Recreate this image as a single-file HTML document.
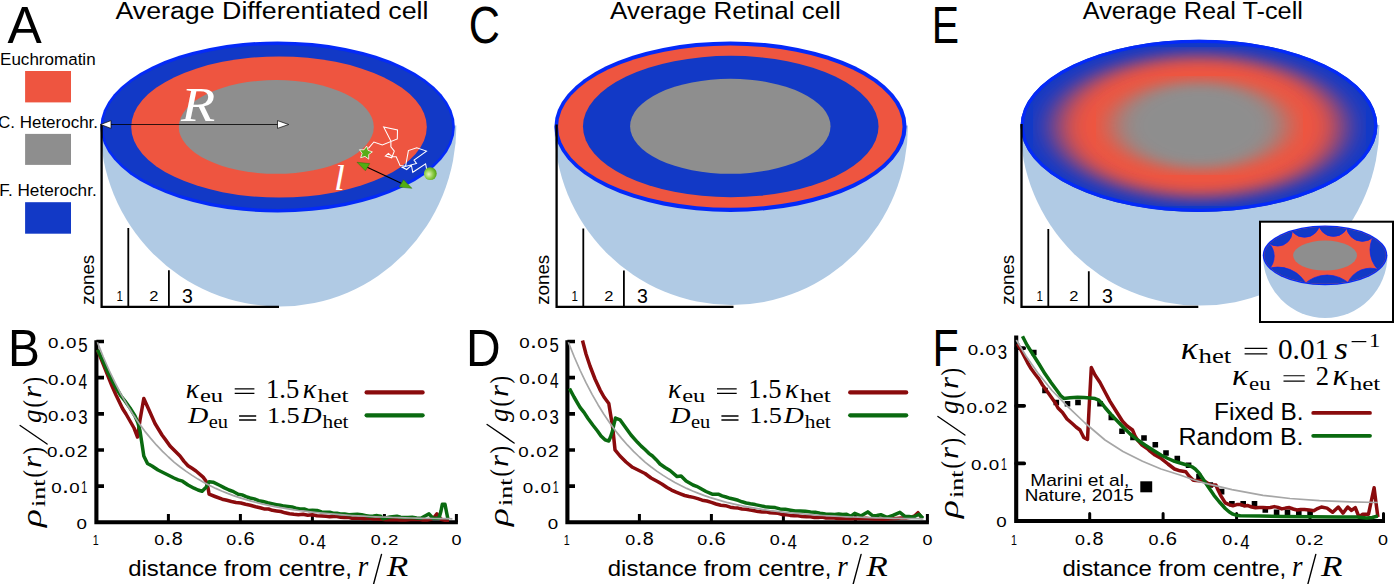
<!DOCTYPE html>
<html><head><meta charset="utf-8"><title>Figure</title>
<style>
html,body{margin:0;padding:0;background:#fff;}
body{width:1395px;height:584px;overflow:hidden;font-family:"Liberation Sans",sans-serif;}
svg{display:block;}
</style></head><body>
<svg width="1395" height="584" viewBox="0 0 1395 584">
<rect width="1395" height="584" fill="#fff"/>
<defs>
<radialGradient id="gBall" cx="0.38" cy="0.55" r="0.62">
<stop offset="0" stop-color="#e4f5c4"/>
<stop offset="0.5" stop-color="#96d050"/>
<stop offset="0.85" stop-color="#64b022"/>
<stop offset="1" stop-color="#55a018"/>
</radialGradient>
<filter id="blurG" filterUnits="userSpaceOnUse" x="1096.9" y="76.7" width="205.8" height="98"><feGaussianBlur stdDeviation="14 6.3"/></filter>
<filter id="blurR" filterUnits="userSpaceOnUse" x="1033.1" y="47" width="332.1" height="159"><feGaussianBlur stdDeviation="16 8"/></filter>
<clipPath id="clipE"><ellipse cx="1199.0" cy="125.8" rx="178.4" ry="86.1"/></clipPath>
<clipPath id="clipInset"><ellipse cx="1325.05" cy="255.3" rx="60.8" ry="28.5"/></clipPath>
</defs>
<path d="M100.2,125.5 A179.8,180.9 0 0 0 280.0,306.4 A176.4,180.9 0 0 0 456.4,125.5 Z" fill="#b0cae4"/>
<ellipse cx="277.65" cy="126.9" rx="177.2" ry="85.5" fill="#042af8"/>
<ellipse cx="277.65" cy="126.9" rx="174.7" ry="82" fill="#1239c6"/>
<ellipse cx="279" cy="127" rx="147.8" ry="70.5" fill="#ee5540"/>
<ellipse cx="276.3" cy="126.9" rx="97.5" ry="46.9" fill="#8e8e8e"/>
<path d="M101.6,124.0 V306.8 H279.0" fill="none" stroke="#000" stroke-width="2.3"/>
<path d="M128.3,228.0 V306.8 M168.9,270.2 V306.8" fill="none" stroke="#000" stroke-width="1.8"/>
<text transform="translate(116.57,301.40) scale(0.1163,0.1449)" font-size="100" fill="#000" font-family='"Liberation Sans", sans-serif'>1</text>
<text transform="translate(149.17,301.40) scale(0.1652,0.1429)" font-size="100" fill="#000" font-family='"Liberation Sans", sans-serif'>2</text>
<text transform="translate(181.92,303.19) scale(0.1957,0.2085)" font-size="100" fill="#000" font-family='"Liberation Sans", sans-serif'>3</text>
<text transform="translate(94.0,304.8) rotate(-90)" font-size="19" font-family='"Liberation Sans", sans-serif' textLength="50" lengthAdjust="spacingAndGlyphs">zones</text>
<path d="M106,124.5 H282" stroke="#000" stroke-width="1.1" stroke-opacity="0.8" fill="none"/>
<path d="M100.7,124.5 L111,120.6 L111,128.4 Z" fill="#fff" stroke="#000" stroke-width="0.7"/>
<path d="M288.7,124.5 L277.5,120.6 L277.5,128.4 Z" fill="#fff" stroke="#000" stroke-width="0.7"/>
<text transform="translate(180.90,120.80) scale(0.5610,0.4923)" font-size="100" fill="#fff" font-family='"Liberation Serif", serif' font-style="italic">R</text>
<text transform="translate(333.95,189.60) scale(0.3900,0.3565)" font-size="100" fill="#fff" font-family='"Liberation Serif", serif' font-style="italic">l</text>
<polyline points="368.4,148.4 373.9,142.0 382.3,145.0 397.3,138.9 397.5,129.9 383.7,126.9 390.9,141.1 390.9,146.7 394.3,151.1 391.7,157.8 385.4,156.1 388.4,153.4 392.3,156.7 396.2,156.7 400.1,165.6 405.6,166.2 408.4,150.6 416.7,147.8 426.5,151.1 414.0,160.0 416.5,163.4 402.3,167.3 406.7,169.5 411.4,165.4 412.8,172.3 425.6,163.9 426.8,170.0" fill="none" stroke="#fff" stroke-width="1.05" stroke-linejoin="miter"/>
<polygon points="366.7,146.1 368.1,150.4 372.4,151.9 368.7,154.5 368.7,159.1 365.0,156.4 360.7,157.7 362.1,153.4 359.5,149.7 364.0,149.8" fill="#5aad18" stroke="#fff" stroke-width="0.8"/>
<circle cx="430.3" cy="173.6" r="6.4" fill="url(#gBall)"/>
<path d="M364,165.7 L405,185.0" stroke="#000" stroke-width="1.1" fill="none"/>
<path d="M357,162.3 L369.7,163.6 L365.4,170.8 Z" fill="#52ad12" stroke="#2f6d0c" stroke-width="0.5"/>
<path d="M411.9,188.3 L399.2,187.0 L403.5,179.8 Z" fill="#52ad12" stroke="#2f6d0c" stroke-width="0.5"/>
<path d="M554.2,125.5 A177.3,179.5 0 0 0 731.5,305.0 A176.5,179.5 0 0 0 908.0,125.5 Z" fill="#b0cae4"/>
<ellipse cx="730.5" cy="126.65" rx="176.1" ry="85.25" fill="#042af8"/>
<ellipse cx="730.3" cy="126.65" rx="172.2" ry="81.15" fill="#ee5540"/>
<ellipse cx="730.75" cy="126.5" rx="147.8" ry="70.7" fill="#1239c6"/>
<ellipse cx="730.3" cy="126.3" rx="100.2" ry="47.5" fill="#8e8e8e"/>
<path d="M556.6,124.5 V306.8 H733.5" fill="none" stroke="#000" stroke-width="2.3"/>
<path d="M583.3,228.6 V306.8 M623.9,270.4 V306.8" fill="none" stroke="#000" stroke-width="1.8"/>
<text transform="translate(571.57,301.40) scale(0.1163,0.1449)" font-size="100" fill="#000" font-family='"Liberation Sans", sans-serif'>1</text>
<text transform="translate(604.17,301.40) scale(0.1652,0.1429)" font-size="100" fill="#000" font-family='"Liberation Sans", sans-serif'>2</text>
<text transform="translate(636.92,303.19) scale(0.1957,0.2085)" font-size="100" fill="#000" font-family='"Liberation Sans", sans-serif'>3</text>
<text transform="translate(549.0,304.8) rotate(-90)" font-size="19" font-family='"Liberation Sans", sans-serif' textLength="50" lengthAdjust="spacingAndGlyphs">zones</text>
<path d="M1020.2,125.0 A179.8,180.6 0 0 0 1200.0,305.6 A179.4,180.6 0 0 0 1379.4,125.0 Z" fill="#b0cae4"/>
<ellipse cx="1199.0" cy="125.8" rx="178.4" ry="86.1" fill="#1239c6"/>
<g clip-path="url(#clipE)">
<ellipse cx="1199.15" cy="126.5" rx="143.5" ry="71" fill="#ee5540" filter="url(#blurR)"/>
<ellipse cx="1199.6" cy="125.4" rx="86" ry="44" fill="#8e8e8e" filter="url(#blurG)"/>
</g>
<ellipse cx="1199.0" cy="125.8" rx="176.8" ry="84.5" fill="none" stroke="#042af8" stroke-width="3.2"/>
<path d="M1021.5,124.0 V306.8 H1198.3" fill="none" stroke="#000" stroke-width="2.3"/>
<path d="M1048.3,228.9 V306.8 M1088.8,271.3 V306.8" fill="none" stroke="#000" stroke-width="1.8"/>
<text transform="translate(1036.57,301.40) scale(0.1163,0.1449)" font-size="100" fill="#000" font-family='"Liberation Sans", sans-serif'>1</text>
<text transform="translate(1069.17,301.40) scale(0.1652,0.1429)" font-size="100" fill="#000" font-family='"Liberation Sans", sans-serif'>2</text>
<text transform="translate(1101.92,303.19) scale(0.1957,0.2085)" font-size="100" fill="#000" font-family='"Liberation Sans", sans-serif'>3</text>
<text transform="translate(1014.0,304.8) rotate(-90)" font-size="19" font-family='"Liberation Sans", sans-serif' textLength="50" lengthAdjust="spacingAndGlyphs">zones</text>
<rect x="1260" y="221.7" width="133" height="100.3" fill="#fff" stroke="#000" stroke-width="2"/>
<path d="M1262.9,255 A62.3,63 0 0 0 1387.5,255 Z" fill="#b0cae4"/>
<ellipse cx="1325.05" cy="255.3" rx="62.3" ry="29.9" fill="#042af8"/>
<ellipse cx="1325.05" cy="255.3" rx="60.8" ry="28.5" fill="#ee5540"/>
<g clip-path="url(#clipInset)">
<circle cx="1255.4" cy="256.2" r="18.8" fill="#1239c6" stroke="#042af8" stroke-width="0.7"/>
<circle cx="1277.7" cy="231.6" r="14.5" fill="#1239c6" stroke="#042af8" stroke-width="0.7"/>
<circle cx="1304.5" cy="221.7" r="15.6" fill="#1239c6" stroke="#042af8" stroke-width="0.7"/>
<circle cx="1333.4" cy="221.0" r="15.4" fill="#1239c6" stroke="#042af8" stroke-width="0.7"/>
<circle cx="1362.3" cy="225.5" r="15.9" fill="#1239c6" stroke="#042af8" stroke-width="0.7"/>
<circle cx="1398.5" cy="249.8" r="28.5" fill="#1239c6" stroke="#042af8" stroke-width="0.7"/>
<circle cx="1370.4" cy="293.1" r="24.9" fill="#1239c6" stroke="#042af8" stroke-width="0.7"/>
<circle cx="1327.1" cy="308.5" r="33.4" fill="#1239c6" stroke="#042af8" stroke-width="0.7"/>
<circle cx="1277.7" cy="299.7" r="32.6" fill="#1239c6" stroke="#042af8" stroke-width="0.7"/>
</g>
<ellipse cx="1325.05" cy="255.6" rx="31.9" ry="15.0" fill="#8e8e8e"/>
<text transform="translate(7.50,43.00) scale(0.5136,0.5174)" font-size="100" fill="#000" font-family='"Liberation Sans", sans-serif'>A</text>
<text transform="translate(468.84,42.79) scale(0.4317,0.5127)" font-size="100" fill="#000" font-family='"Liberation Sans", sans-serif'>C</text>
<text transform="translate(931.83,43.00) scale(0.4093,0.5174)" font-size="100" fill="#000" font-family='"Liberation Sans", sans-serif'>E</text>
<text transform="translate(7.98,365.70) scale(0.4774,0.5130)" font-size="100" fill="#000" font-family='"Liberation Sans", sans-serif'>B</text>
<text transform="translate(466.06,365.70) scale(0.4797,0.5130)" font-size="100" fill="#000" font-family='"Liberation Sans", sans-serif'>D</text>
<text transform="translate(932.47,365.70) scale(0.4286,0.5116)" font-size="100" fill="#000" font-family='"Liberation Sans", sans-serif'>F</text>
<text transform="translate(115.40,18.80) scale(1.0891,1.0000)" font-size="24.6" fill="#000" font-family='"Liberation Sans", sans-serif'>Average Differentiated cell</text>
<text transform="translate(610.10,18.60) scale(1.0562,1.0000)" font-size="24.6" fill="#000" font-family='"Liberation Sans", sans-serif'>Average Retinal cell</text>
<text transform="translate(1082.70,18.70) scale(1.0309,1.0000)" font-size="24.6" fill="#000" font-family='"Liberation Sans", sans-serif'>Average Real T-cell</text>
<text transform="translate(0.04,64.70) scale(1.0142,1.0000)" font-size="16.8" fill="#000" font-family='"Liberation Sans", sans-serif'>Euchromatin</text>
<rect x="25.1" y="71" width="45.9" height="31.4" fill="#ee5540"/>
<text transform="translate(-2.05,127.50) scale(1.0124,1.0000)" font-size="16.8" fill="#000" font-family='"Liberation Sans", sans-serif'>C. Heterochr.</text>
<rect x="25.1" y="133.9" width="45.9" height="31" fill="#8e8e8e"/>
<text transform="translate(-0.67,195.80) scale(1.0227,1.0000)" font-size="16.8" fill="#000" font-family='"Liberation Sans", sans-serif'>F. Heterochr.</text>
<rect x="25.1" y="202.2" width="45.9" height="31.5" fill="#1239c6"/>
<path d="M96.4,340.2 V522.3 H457.9" fill="none" stroke="#000" stroke-width="4.1" stroke-linejoin="miter"/>
<path d="M168.4,522.3 v-8.2 M240.4,522.3 v-8.2 M312.4,522.3 v-8.2 M384.4,522.3 v-8.2 M456.4,522.3 v-8.2 " fill="none" stroke="#000" stroke-width="3" stroke-linecap="butt"/>
<path d="M96.4,486.1 h7.6 M96.4,450.0 h7.6 M96.4,413.8 h7.6 M96.4,377.7 h7.6 M96.4,341.5 h7.6 " fill="none" stroke="#000" stroke-width="3.7" stroke-linecap="butt"/>
<polyline points="97.5,349.8 102.0,361.0 106.0,371.0 110.0,381.0 112.0,386.0 116.0,395.0 122.5,408.5 126.0,414.0 130.0,421.0 134.0,428.0 137.5,437.0 140.0,420.0 143.8,398.5 149.0,410.0 155.0,423.5 162.0,435.0 166.0,440.4 170.0,446.0 175.0,451.1 180.0,456.0 184.0,461.4 188.0,465.7 192.0,468.3 196.0,471.0 203.1,477.1 206.0,481.0 208.1,488.2 209.1,494.2 215.0,496.5 222.2,499.2 226.8,500.3 231.4,501.5 236.0,502.5 240.8,503.0 245.5,504.3 250.3,505.2 255.7,506.8 261.0,508.0 264.8,509.1 268.5,509.0 272.3,510.3 276.5,510.9 280.8,511.5 285.0,512.8 289.5,513.8 293.9,514.3 298.4,514.7 303.1,514.2 307.8,515.3 312.5,514.7 317.0,515.8 321.5,516.0 326.0,516.3 329.6,516.7 333.3,516.4 337.0,516.5 340.6,517.3 344.4,517.6 348.2,517.4 352.0,518.2 356.2,518.0 360.5,518.2 364.7,518.7 369.0,518.3 373.4,519.0 377.7,519.1 382.0,519.3 385.8,519.8 389.5,519.6 393.3,519.8 397.0,519.8 400.8,519.9 405.5,520.0 410.3,519.6 415.0,519.5 419.0,519.2 422.9,520.0 426.9,519.9 430.9,519.3 433.5,518.0 436.9,513.9 441.0,519.3 445.0,520.2 449.0,520.3" fill="none" stroke="#8a0b0d" stroke-width="3.5" stroke-linejoin="round" stroke-linecap="butt"/>
<polyline points="97.5,349.8 103.0,361.0 108.5,373.5 115.0,386.0 121.0,396.0 125.0,401.0 130.0,408.0 135.0,416.0 138.0,423.0 140.0,431.0 142.0,444.0 143.8,456.0 147.5,463.5 152.0,466.0 158.0,470.0 165.0,473.5 169.5,475.7 174.0,478.0 178.2,479.8 182.5,481.2 188.0,485.0 194.0,488.2 198.0,490.0 202.1,491.2 206.1,487.2 209.1,481.8 213.1,482.2 220.0,485.5 224.5,487.9 229.0,490.0 233.6,491.7 238.2,494.2 242.1,494.9 246.1,496.6 250.0,498.0 254.3,498.9 258.7,500.7 263.0,501.5 267.5,502.8 271.9,503.7 276.4,504.6 280.3,505.3 284.1,506.1 288.0,506.5 292.0,506.9 296.0,508.1 300.0,509.0 304.2,509.0 308.3,510.4 312.5,510.3 317.0,510.4 321.5,512.0 326.0,512.3 329.6,512.2 333.3,513.3 337.0,513.3 340.6,513.9 344.7,514.0 348.9,514.7 353.0,514.5 357.3,514.3 361.7,514.7 366.0,515.6 369.7,516.3 373.4,516.0 377.1,515.6 380.8,516.3 382.8,518.7 390.0,517.0 396.9,516.3 400.6,517.3 404.3,517.6 408.0,517.5 412.3,517.3 416.7,517.9 421.0,518.3 425.0,516.0 429.0,513.9 433.0,518.3 439.0,518.3 441.0,511.0 442.3,504.3 445.0,504.3 446.5,512.0 448.0,519.3" fill="none" stroke="#0a6a10" stroke-width="3.5" stroke-linejoin="round" stroke-linecap="butt"/>
<polyline points="97.4,342.3 103.3,357.0 109.2,370.5 115.2,382.9 121.1,394.3 127.0,404.7 132.9,414.3 138.8,423.0 144.7,431.1 150.7,438.4 156.6,445.2 162.5,451.4 168.4,457.0 174.3,462.3 180.2,467.0 186.2,471.4 192.1,475.4 198.0,479.1 203.9,482.5 209.8,485.6 215.7,488.4 221.6,491.0 227.6,493.4 233.5,495.6 239.4,497.6 245.3,499.4 251.2,501.1 257.1,502.7 263.1,504.1 269.0,505.4 274.9,506.6 280.8,507.7 286.7,508.7 292.7,509.6 298.6,510.5 304.5,511.2 310.4,511.9 316.3,512.6 322.2,513.2 328.1,513.7 334.1,514.2 340.0,514.7 345.9,515.1 351.8,515.5 357.7,515.9 363.6,516.2 369.6,516.5 375.5,516.8 381.4,517.0 387.3,517.2 393.2,517.5 399.1,517.6 405.1,517.8 411.0,518.0 416.9,518.1 422.8,518.3 428.7,518.4 434.6,518.5 440.6,518.6 446.5,518.7 452.4,518.8" fill="none" stroke="#a6a6a6" stroke-width="1.7" stroke-linejoin="round" stroke-linecap="butt"/>
<text transform="translate(48.05,348.40) scale(0.1875,0.1549)" font-size="100" fill="#000" font-family='"Liberation Sans", sans-serif'>0</text>
<text transform="translate(58.75,348.55) scale(0.2500,0.2273)" font-size="100" fill="#000" font-family='"Liberation Sans", sans-serif'>.</text>
<text transform="translate(65.95,348.40) scale(0.1875,0.1549)" font-size="100" fill="#000" font-family='"Liberation Sans", sans-serif'>0</text>
<text transform="translate(78.23,351.94) scale(0.1681,0.2086)" font-size="100" fill="#000" font-family='"Liberation Sans", sans-serif'>5</text>
<text transform="translate(48.05,384.55) scale(0.1875,0.1549)" font-size="100" fill="#000" font-family='"Liberation Sans", sans-serif'>0</text>
<text transform="translate(58.75,384.70) scale(0.2500,0.2273)" font-size="100" fill="#000" font-family='"Liberation Sans", sans-serif'>.</text>
<text transform="translate(65.95,384.55) scale(0.1875,0.1549)" font-size="100" fill="#000" font-family='"Liberation Sans", sans-serif'>0</text>
<text transform="translate(78.59,388.51) scale(0.1549,0.2147)" font-size="100" fill="#000" font-family='"Liberation Sans", sans-serif'>4</text>
<text transform="translate(48.05,420.70) scale(0.1875,0.1549)" font-size="100" fill="#000" font-family='"Liberation Sans", sans-serif'>0</text>
<text transform="translate(58.75,420.85) scale(0.2500,0.2273)" font-size="100" fill="#000" font-family='"Liberation Sans", sans-serif'>.</text>
<text transform="translate(65.95,420.70) scale(0.1875,0.1549)" font-size="100" fill="#000" font-family='"Liberation Sans", sans-serif'>0</text>
<text transform="translate(78.23,424.24) scale(0.1681,0.2056)" font-size="100" fill="#000" font-family='"Liberation Sans", sans-serif'>3</text>
<text transform="translate(46.95,456.85) scale(0.1875,0.1549)" font-size="100" fill="#000" font-family='"Liberation Sans", sans-serif'>0</text>
<text transform="translate(57.65,457.00) scale(0.2500,0.2273)" font-size="100" fill="#000" font-family='"Liberation Sans", sans-serif'>.</text>
<text transform="translate(64.85,456.85) scale(0.1875,0.1549)" font-size="100" fill="#000" font-family='"Liberation Sans", sans-serif'>0</text>
<text transform="translate(76.82,457.00) scale(0.1957,0.1571)" font-size="100" fill="#000" font-family='"Liberation Sans", sans-serif'>2</text>
<text transform="translate(51.35,493.00) scale(0.1875,0.1549)" font-size="100" fill="#000" font-family='"Liberation Sans", sans-serif'>0</text>
<text transform="translate(62.05,493.15) scale(0.2500,0.2273)" font-size="100" fill="#000" font-family='"Liberation Sans", sans-serif'>.</text>
<text transform="translate(69.25,493.00) scale(0.1875,0.1549)" font-size="100" fill="#000" font-family='"Liberation Sans", sans-serif'>0</text>
<text transform="translate(81.34,493.15) scale(0.1070,0.1594)" font-size="100" fill="#000" font-family='"Liberation Sans", sans-serif'>1</text>
<text transform="translate(76.55,528.85) scale(0.1875,0.1549)" font-size="100" fill="#000" font-family='"Liberation Sans", sans-serif'>0</text>
<text transform="translate(92.64,545.30) scale(0.1070,0.1464)" font-size="100" fill="#000" font-family='"Liberation Sans", sans-serif'>1</text>
<text transform="translate(154.28,545.16) scale(0.1792,0.1423)" font-size="100" fill="#000" font-family='"Liberation Sans", sans-serif'>0</text>
<text transform="translate(164.55,545.30) scale(0.2500,0.2273)" font-size="100" fill="#000" font-family='"Liberation Sans", sans-serif'>.</text>
<text transform="translate(171.71,545.11) scale(0.1979,0.1901)" font-size="100" fill="#000" font-family='"Liberation Sans", sans-serif'>8</text>
<text transform="translate(226.28,545.16) scale(0.1792,0.1423)" font-size="100" fill="#000" font-family='"Liberation Sans", sans-serif'>0</text>
<text transform="translate(236.55,545.30) scale(0.2500,0.2273)" font-size="100" fill="#000" font-family='"Liberation Sans", sans-serif'>.</text>
<text transform="translate(243.49,545.11) scale(0.2022,0.1901)" font-size="100" fill="#000" font-family='"Liberation Sans", sans-serif'>6</text>
<text transform="translate(298.63,545.16) scale(0.1792,0.1423)" font-size="100" fill="#000" font-family='"Liberation Sans", sans-serif'>0</text>
<text transform="translate(308.90,545.30) scale(0.2500,0.2273)" font-size="100" fill="#000" font-family='"Liberation Sans", sans-serif'>.</text>
<text transform="translate(316.51,549.20) scale(0.1686,0.2015)" font-size="100" fill="#000" font-family='"Liberation Sans", sans-serif'>4</text>
<text transform="translate(370.63,545.16) scale(0.1792,0.1423)" font-size="100" fill="#000" font-family='"Liberation Sans", sans-serif'>0</text>
<text transform="translate(380.90,545.30) scale(0.2500,0.2273)" font-size="100" fill="#000" font-family='"Liberation Sans", sans-serif'>.</text>
<text transform="translate(387.92,545.30) scale(0.1870,0.1443)" font-size="100" fill="#000" font-family='"Liberation Sans", sans-serif'>2</text>
<text transform="translate(451.38,545.16) scale(0.1792,0.1423)" font-size="100" fill="#000" font-family='"Liberation Sans", sans-serif'>0</text>
<g transform="translate(40.6,527.0) rotate(-90)">
<text x="0.0" y="0.0" font-size="27" fill="#000" font-family='"Liberation Serif", serif' font-style="italic" textLength="18.0" lengthAdjust="spacingAndGlyphs">ρ</text>
<text x="20.0" y="4.5" font-size="18.5" fill="#000" font-family='"Liberation Serif", serif' textLength="27.5" lengthAdjust="spacingAndGlyphs">int</text>
<text x="49.5" y="1.5" font-size="28" fill="#000" font-family='"Liberation Serif", serif' textLength="7.5" lengthAdjust="spacingAndGlyphs">(</text>
<text x="59.0" y="0.0" font-size="27" fill="#000" font-family='"Liberation Serif", serif' font-style="italic" textLength="12.0" lengthAdjust="spacingAndGlyphs">r</text>
<text x="72.5" y="1.5" font-size="28" fill="#000" font-family='"Liberation Serif", serif' textLength="7.5" lengthAdjust="spacingAndGlyphs">)</text>
<path d="M83.0,6.5 L101.5,-20.5" stroke="#000" stroke-width="1.35" fill="none" stroke-linecap="round"/>
<text x="104.0" y="0.0" font-size="27" fill="#000" font-family='"Liberation Serif", serif' font-style="italic" textLength="13.5" lengthAdjust="spacingAndGlyphs">g</text>
<text x="119.5" y="1.5" font-size="28" fill="#000" font-family='"Liberation Serif", serif' textLength="7.5" lengthAdjust="spacingAndGlyphs">(</text>
<text x="129.0" y="0.0" font-size="27" fill="#000" font-family='"Liberation Serif", serif' font-style="italic" textLength="12.0" lengthAdjust="spacingAndGlyphs">r</text>
<text x="142.5" y="1.5" font-size="28" fill="#000" font-family='"Liberation Serif", serif' textLength="7.5" lengthAdjust="spacingAndGlyphs">)</text>
</g>
<text x="128.2" y="576.0" font-size="22.4" fill="#000" font-family='"Liberation Sans", sans-serif' textLength="223.7" lengthAdjust="spacingAndGlyphs">distance from centre,</text>
<text x="357.7" y="576.3" font-size="29" fill="#000" font-family='"Liberation Serif", serif' font-style="italic" textLength="10.5" lengthAdjust="spacingAndGlyphs">r</text>
<path d="M373.6,584.0 L381.5,554.4" stroke="#000" stroke-width="1.4" fill="none" stroke-linecap="round"/>
<text x="386.7" y="576.3" font-size="29" fill="#000" font-family='"Liberation Serif", serif' font-style="italic" textLength="21.5" lengthAdjust="spacingAndGlyphs">R</text>
<text x="185.7" y="398.0" font-size="28" fill="#000" font-family='"Liberation Serif", serif' font-style="italic" textLength="13.3" lengthAdjust="spacingAndGlyphs">κ</text>
<text x="199.9" y="401.5" font-size="18.5" fill="#000" font-family='"Liberation Serif", serif' textLength="23.1" lengthAdjust="spacingAndGlyphs">eu</text>
<path d="M234.7,388.80 H254.4 M234.7,393.40 H254.4" stroke="#000" stroke-width="1.3" fill="none"/>
<text x="266.0" y="398.0" font-size="27.4" fill="#000" font-family='"Liberation Serif", serif' textLength="33.2" lengthAdjust="spacingAndGlyphs">1.5</text>
<text x="302.8" y="398.0" font-size="28" fill="#000" font-family='"Liberation Serif", serif' font-style="italic" textLength="13.4" lengthAdjust="spacingAndGlyphs">κ</text>
<text x="317.6" y="401.5" font-size="18.7" fill="#000" font-family='"Liberation Serif", serif' textLength="30.9" lengthAdjust="spacingAndGlyphs">het</text>
<text x="188.0" y="423.4" font-size="23" fill="#000" font-family='"Liberation Serif", serif' font-style="italic" textLength="20.3" lengthAdjust="spacingAndGlyphs">D</text>
<text x="208.7" y="428.4" font-size="18.5" fill="#000" font-family='"Liberation Serif", serif' textLength="19.3" lengthAdjust="spacingAndGlyphs">eu</text>
<path d="M239.1,416.00 H256.2 M239.1,420.00 H256.2" stroke="#000" stroke-width="1.3" fill="none"/>
<text x="266.9" y="423.4" font-size="22.5" fill="#000" font-family='"Liberation Serif", serif' textLength="32.8" lengthAdjust="spacingAndGlyphs">1.5</text>
<text x="301.5" y="423.4" font-size="23" fill="#000" font-family='"Liberation Serif", serif' font-style="italic" textLength="20.1" lengthAdjust="spacingAndGlyphs">D</text>
<text x="322.5" y="428.4" font-size="18.7" fill="#000" font-family='"Liberation Serif", serif' textLength="26.0" lengthAdjust="spacingAndGlyphs">het</text>
<path d="M366.6,392.4 H422.6" stroke="#8a0b0d" stroke-width="4.2" stroke-linecap="round"/>
<path d="M366.6,415.3 H422.6" stroke="#0a6a10" stroke-width="4.2" stroke-linecap="round"/>
<path d="M567.4,340.2 V522.3 H928.9" fill="none" stroke="#000" stroke-width="4.1" stroke-linejoin="miter"/>
<path d="M639.4,522.3 v-8.2 M711.4,522.3 v-8.2 M783.4,522.3 v-8.2 M855.4,522.3 v-8.2 M927.4,522.3 v-8.2 " fill="none" stroke="#000" stroke-width="3" stroke-linecap="butt"/>
<path d="M567.4,486.1 h7.6 M567.4,450.0 h7.6 M567.4,413.8 h7.6 M567.4,377.7 h7.6 M567.4,341.5 h7.6 " fill="none" stroke="#000" stroke-width="3.7" stroke-linecap="butt"/>
<polyline points="582.5,340.5 586.0,354.0 590.0,366.0 595.0,379.0 600.0,389.8 604.0,397.0 608.8,403.5 610.5,414.0 612.5,426.0 614.0,440.0 615.0,449.8 620.0,456.0 626.0,462.0 632.5,467.3 639.0,470.5 645.0,473.5 651.0,478.0 657.5,481.5 662.2,484.2 667.0,487.5 671.5,490.1 676.1,492.2 680.4,493.9 684.7,495.5 689.0,496.5 693.4,497.4 697.8,498.6 702.2,500.2 706.8,501.0 711.4,502.4 716.0,504.0 720.8,505.3 725.5,505.7 730.3,507.2 734.2,507.8 738.1,508.1 742.0,509.0 746.1,509.3 750.3,510.1 754.4,510.7 758.3,511.6 762.2,511.9 766.1,511.7 770.0,512.8 774.1,513.0 778.2,513.3 782.4,514.7 786.5,514.7 790.3,515.4 794.2,515.8 798.0,515.8 802.2,516.5 806.4,516.7 810.6,516.7 814.5,517.5 818.4,517.5 822.2,517.1 826.1,518.0 830.0,517.8 834.1,518.0 838.3,518.5 842.4,518.4 846.6,518.4 850.7,518.7 854.6,518.5 858.4,518.6 862.3,518.5 866.1,518.2 870.0,518.7 874.2,519.1 878.4,519.1 882.5,519.3 886.7,518.9 890.9,518.7 896.0,518.4 901.0,518.0 906.0,517.9 910.9,517.3 914.5,516.0 918.0,512.7 922.0,518.3" fill="none" stroke="#8a0b0d" stroke-width="3.5" stroke-linejoin="round" stroke-linecap="butt"/>
<polyline points="569.5,388.5 574.0,397.0 580.0,407.3 584.0,412.4 588.0,418.5 592.8,425.0 597.5,431.0 601.0,436.0 605.0,439.8 608.8,441.0 610.5,437.0 612.5,431.0 614.0,424.0 615.5,418.0 620.0,419.8 626.3,428.5 631.0,435.0 637.5,442.3 641.2,446.1 645.0,449.5 648.8,453.3 652.5,456.0 656.2,459.7 660.0,464.0 665.0,467.5 670.0,470.5 677.1,476.6 681.1,476.1 686.1,481.1 693.0,485.0 696.6,486.3 700.2,488.2 706.0,491.5 712.2,494.2 718.2,494.2 722.1,495.9 726.0,497.0 730.1,498.3 734.3,499.2 738.1,500.3 742.0,501.8 746.2,503.0 750.4,503.8 755.2,504.6 760.0,505.6 765.2,506.7 770.4,507.2 775.2,507.6 780.0,508.9 785.2,509.3 790.5,510.3 795.2,511.1 800.0,511.0 805.3,511.3 810.6,511.9 815.3,512.3 820.0,513.2 825.4,514.1 830.7,514.3 834.7,514.5 838.7,513.9 842.7,514.4 846.7,514.3 850.7,516.3 854.7,513.3 860.8,515.9 867.8,511.9 872.8,515.9 876.8,515.5 880.8,514.7 886.9,517.3 892.9,515.3 899.9,512.3 904.9,516.3 908.9,516.4 912.9,517.3 919.0,514.3 923.0,518.3" fill="none" stroke="#0a6a10" stroke-width="3.5" stroke-linejoin="round" stroke-linecap="butt"/>
<polyline points="568.4,342.3 574.3,357.0 580.2,370.5 586.1,382.9 592.1,394.3 598.0,404.7 603.9,414.3 609.8,423.0 615.7,431.1 621.6,438.4 627.6,445.2 633.5,451.4 639.4,457.0 645.3,462.3 651.2,467.0 657.1,471.4 663.1,475.4 669.0,479.1 674.9,482.5 680.8,485.6 686.7,488.4 692.6,491.0 698.6,493.4 704.5,495.6 710.4,497.6 716.3,499.4 722.2,501.1 728.1,502.7 734.1,504.1 740.0,505.4 745.9,506.6 751.8,507.7 757.7,508.7 763.6,509.6 769.6,510.5 775.5,511.2 781.4,511.9 787.3,512.6 793.2,513.2 799.1,513.7 805.1,514.2 811.0,514.7 816.9,515.1 822.8,515.5 828.7,515.9 834.6,516.2 840.6,516.5 846.5,516.8 852.4,517.0 858.3,517.2 864.2,517.5 870.1,517.6 876.1,517.8 882.0,518.0 887.9,518.1 893.8,518.3 899.7,518.4 905.6,518.5 911.6,518.6 917.5,518.7 923.4,518.8" fill="none" stroke="#a6a6a6" stroke-width="1.7" stroke-linejoin="round" stroke-linecap="butt"/>
<text transform="translate(519.35,348.10) scale(0.1875,0.1549)" font-size="100" fill="#000" font-family='"Liberation Sans", sans-serif'>0</text>
<text transform="translate(530.05,348.25) scale(0.2500,0.2273)" font-size="100" fill="#000" font-family='"Liberation Sans", sans-serif'>.</text>
<text transform="translate(537.25,348.10) scale(0.1875,0.1549)" font-size="100" fill="#000" font-family='"Liberation Sans", sans-serif'>0</text>
<text transform="translate(549.53,351.64) scale(0.1681,0.2086)" font-size="100" fill="#000" font-family='"Liberation Sans", sans-serif'>5</text>
<text transform="translate(519.35,384.25) scale(0.1875,0.1549)" font-size="100" fill="#000" font-family='"Liberation Sans", sans-serif'>0</text>
<text transform="translate(530.05,384.40) scale(0.2500,0.2273)" font-size="100" fill="#000" font-family='"Liberation Sans", sans-serif'>.</text>
<text transform="translate(537.25,384.25) scale(0.1875,0.1549)" font-size="100" fill="#000" font-family='"Liberation Sans", sans-serif'>0</text>
<text transform="translate(549.89,388.21) scale(0.1549,0.2147)" font-size="100" fill="#000" font-family='"Liberation Sans", sans-serif'>4</text>
<text transform="translate(519.35,420.40) scale(0.1875,0.1549)" font-size="100" fill="#000" font-family='"Liberation Sans", sans-serif'>0</text>
<text transform="translate(530.05,420.55) scale(0.2500,0.2273)" font-size="100" fill="#000" font-family='"Liberation Sans", sans-serif'>.</text>
<text transform="translate(537.25,420.40) scale(0.1875,0.1549)" font-size="100" fill="#000" font-family='"Liberation Sans", sans-serif'>0</text>
<text transform="translate(549.53,423.94) scale(0.1681,0.2056)" font-size="100" fill="#000" font-family='"Liberation Sans", sans-serif'>3</text>
<text transform="translate(518.25,456.55) scale(0.1875,0.1549)" font-size="100" fill="#000" font-family='"Liberation Sans", sans-serif'>0</text>
<text transform="translate(528.95,456.70) scale(0.2500,0.2273)" font-size="100" fill="#000" font-family='"Liberation Sans", sans-serif'>.</text>
<text transform="translate(536.15,456.55) scale(0.1875,0.1549)" font-size="100" fill="#000" font-family='"Liberation Sans", sans-serif'>0</text>
<text transform="translate(548.12,456.70) scale(0.1957,0.1571)" font-size="100" fill="#000" font-family='"Liberation Sans", sans-serif'>2</text>
<text transform="translate(522.65,492.70) scale(0.1875,0.1549)" font-size="100" fill="#000" font-family='"Liberation Sans", sans-serif'>0</text>
<text transform="translate(533.35,492.85) scale(0.2500,0.2273)" font-size="100" fill="#000" font-family='"Liberation Sans", sans-serif'>.</text>
<text transform="translate(540.55,492.70) scale(0.1875,0.1549)" font-size="100" fill="#000" font-family='"Liberation Sans", sans-serif'>0</text>
<text transform="translate(552.64,492.85) scale(0.1070,0.1594)" font-size="100" fill="#000" font-family='"Liberation Sans", sans-serif'>1</text>
<text transform="translate(547.85,528.85) scale(0.1875,0.1549)" font-size="100" fill="#000" font-family='"Liberation Sans", sans-serif'>0</text>
<text transform="translate(563.64,545.30) scale(0.1070,0.1464)" font-size="100" fill="#000" font-family='"Liberation Sans", sans-serif'>1</text>
<text transform="translate(625.28,545.16) scale(0.1792,0.1423)" font-size="100" fill="#000" font-family='"Liberation Sans", sans-serif'>0</text>
<text transform="translate(635.55,545.30) scale(0.2500,0.2273)" font-size="100" fill="#000" font-family='"Liberation Sans", sans-serif'>.</text>
<text transform="translate(642.71,545.11) scale(0.1979,0.1901)" font-size="100" fill="#000" font-family='"Liberation Sans", sans-serif'>8</text>
<text transform="translate(697.28,545.16) scale(0.1792,0.1423)" font-size="100" fill="#000" font-family='"Liberation Sans", sans-serif'>0</text>
<text transform="translate(707.55,545.30) scale(0.2500,0.2273)" font-size="100" fill="#000" font-family='"Liberation Sans", sans-serif'>.</text>
<text transform="translate(714.49,545.11) scale(0.2022,0.1901)" font-size="100" fill="#000" font-family='"Liberation Sans", sans-serif'>6</text>
<text transform="translate(769.63,545.16) scale(0.1792,0.1423)" font-size="100" fill="#000" font-family='"Liberation Sans", sans-serif'>0</text>
<text transform="translate(779.90,545.30) scale(0.2500,0.2273)" font-size="100" fill="#000" font-family='"Liberation Sans", sans-serif'>.</text>
<text transform="translate(787.51,549.20) scale(0.1686,0.2015)" font-size="100" fill="#000" font-family='"Liberation Sans", sans-serif'>4</text>
<text transform="translate(841.63,545.16) scale(0.1792,0.1423)" font-size="100" fill="#000" font-family='"Liberation Sans", sans-serif'>0</text>
<text transform="translate(851.90,545.30) scale(0.2500,0.2273)" font-size="100" fill="#000" font-family='"Liberation Sans", sans-serif'>.</text>
<text transform="translate(858.92,545.30) scale(0.1870,0.1443)" font-size="100" fill="#000" font-family='"Liberation Sans", sans-serif'>2</text>
<text transform="translate(922.38,545.16) scale(0.1792,0.1423)" font-size="100" fill="#000" font-family='"Liberation Sans", sans-serif'>0</text>
<g transform="translate(507.6,526.0) rotate(-90)">
<text x="0.0" y="0.0" font-size="27" fill="#000" font-family='"Liberation Serif", serif' font-style="italic" textLength="18.0" lengthAdjust="spacingAndGlyphs">ρ</text>
<text x="20.0" y="4.5" font-size="18.5" fill="#000" font-family='"Liberation Serif", serif' textLength="27.5" lengthAdjust="spacingAndGlyphs">int</text>
<text x="49.5" y="1.5" font-size="28" fill="#000" font-family='"Liberation Serif", serif' textLength="7.5" lengthAdjust="spacingAndGlyphs">(</text>
<text x="59.0" y="0.0" font-size="27" fill="#000" font-family='"Liberation Serif", serif' font-style="italic" textLength="12.0" lengthAdjust="spacingAndGlyphs">r</text>
<text x="72.5" y="1.5" font-size="28" fill="#000" font-family='"Liberation Serif", serif' textLength="7.5" lengthAdjust="spacingAndGlyphs">)</text>
<path d="M83.0,6.5 L101.5,-20.5" stroke="#000" stroke-width="1.35" fill="none" stroke-linecap="round"/>
<text x="104.0" y="0.0" font-size="27" fill="#000" font-family='"Liberation Serif", serif' font-style="italic" textLength="13.5" lengthAdjust="spacingAndGlyphs">g</text>
<text x="119.5" y="1.5" font-size="28" fill="#000" font-family='"Liberation Serif", serif' textLength="7.5" lengthAdjust="spacingAndGlyphs">(</text>
<text x="129.0" y="0.0" font-size="27" fill="#000" font-family='"Liberation Serif", serif' font-style="italic" textLength="12.0" lengthAdjust="spacingAndGlyphs">r</text>
<text x="142.5" y="1.5" font-size="28" fill="#000" font-family='"Liberation Serif", serif' textLength="7.5" lengthAdjust="spacingAndGlyphs">)</text>
</g>
<text x="607.8" y="576.0" font-size="22.4" fill="#000" font-family='"Liberation Sans", sans-serif' textLength="223.7" lengthAdjust="spacingAndGlyphs">distance from centre,</text>
<text x="837.3" y="576.3" font-size="29" fill="#000" font-family='"Liberation Serif", serif' font-style="italic" textLength="10.5" lengthAdjust="spacingAndGlyphs">r</text>
<path d="M853.2,584.0 L861.1,554.4" stroke="#000" stroke-width="1.4" fill="none" stroke-linecap="round"/>
<text x="866.3" y="576.3" font-size="29" fill="#000" font-family='"Liberation Serif", serif' font-style="italic" textLength="21.5" lengthAdjust="spacingAndGlyphs">R</text>
<text x="668.0" y="398.0" font-size="28" fill="#000" font-family='"Liberation Serif", serif' font-style="italic" textLength="13.3" lengthAdjust="spacingAndGlyphs">κ</text>
<text x="682.2" y="401.5" font-size="18.5" fill="#000" font-family='"Liberation Serif", serif' textLength="23.1" lengthAdjust="spacingAndGlyphs">eu</text>
<path d="M717.0,388.80 H736.7 M717.0,393.40 H736.7" stroke="#000" stroke-width="1.3" fill="none"/>
<text x="748.3" y="398.0" font-size="27.4" fill="#000" font-family='"Liberation Serif", serif' textLength="33.2" lengthAdjust="spacingAndGlyphs">1.5</text>
<text x="785.1" y="398.0" font-size="28" fill="#000" font-family='"Liberation Serif", serif' font-style="italic" textLength="13.4" lengthAdjust="spacingAndGlyphs">κ</text>
<text x="799.9" y="401.5" font-size="18.7" fill="#000" font-family='"Liberation Serif", serif' textLength="30.9" lengthAdjust="spacingAndGlyphs">het</text>
<text x="670.3" y="423.4" font-size="23" fill="#000" font-family='"Liberation Serif", serif' font-style="italic" textLength="20.3" lengthAdjust="spacingAndGlyphs">D</text>
<text x="691.0" y="428.4" font-size="18.5" fill="#000" font-family='"Liberation Serif", serif' textLength="19.3" lengthAdjust="spacingAndGlyphs">eu</text>
<path d="M721.4,416.00 H738.5 M721.4,420.00 H738.5" stroke="#000" stroke-width="1.3" fill="none"/>
<text x="749.2" y="423.4" font-size="22.5" fill="#000" font-family='"Liberation Serif", serif' textLength="32.8" lengthAdjust="spacingAndGlyphs">1.5</text>
<text x="783.8" y="423.4" font-size="23" fill="#000" font-family='"Liberation Serif", serif' font-style="italic" textLength="20.1" lengthAdjust="spacingAndGlyphs">D</text>
<text x="804.8" y="428.4" font-size="18.7" fill="#000" font-family='"Liberation Serif", serif' textLength="26.0" lengthAdjust="spacingAndGlyphs">het</text>
<path d="M850.2,392.4 H906.2" stroke="#8a0b0d" stroke-width="4.2" stroke-linecap="round"/>
<path d="M850.2,415.3 H906.2" stroke="#0a6a10" stroke-width="4.2" stroke-linecap="round"/>
<path d="M1016.2,335.5 V521.0 H1385.0" fill="none" stroke="#000" stroke-width="4.1" stroke-linejoin="miter"/>
<path d="M1089.7,521.0 v-7.6 M1163.1,521.0 v-7.6 M1236.6,521.0 v-7.6 M1310.0,521.0 v-7.6 M1383.5,521.0 v-7.6 " fill="none" stroke="#000" stroke-width="3" stroke-linecap="round"/>
<path d="M1016.2,463.4 h8.0 M1016.2,405.8 h8.0 M1016.2,348.2 h8.0 " fill="none" stroke="#000" stroke-width="3.7" stroke-linecap="round"/>
<path d="M1031.0,349.7h5.6v5.6h-5.6zM1042.2,387.7h5.6v5.6h-5.6zM1053.5,399.7h5.6v5.6h-5.6zM1064.7,401.0h5.6v5.6h-5.6zM1075.2,399.7h5.6v5.6h-5.6zM1097.2,401.0h5.6v5.6h-5.6zM1108.5,414.7h5.6v5.6h-5.6zM1119.2,428.5h5.6v5.6h-5.6zM1130.2,434.7h5.6v5.6h-5.6zM1141.2,435.2h5.6v5.6h-5.6zM1152.5,441.9h5.6v5.6h-5.6zM1163.2,450.2h5.6v5.6h-5.6zM1174.5,455.8h5.6v5.6h-5.6zM1185.8,462.5h5.6v5.6h-5.6zM1196.2,473.7h5.6v5.6h-5.6zM1207.5,482.2h5.6v5.6h-5.6zM1218.8,488.8h5.6v5.6h-5.6zM1229.1,501.0h5.6v5.6h-5.6zM1240.4,501.0h5.6v5.6h-5.6zM1251.7,501.0h5.6v5.6h-5.6zM1262.5,507.2h5.6v5.6h-5.6zM1273.8,509.5h5.6v5.6h-5.6zM1284.7,509.5h5.6v5.6h-5.6zM1296.0,510.4h5.6v5.6h-5.6zM1307.3,510.4h5.6v5.6h-5.6z" fill="#000"/>
<polyline points="1017.5,343.8 1022.0,352.0 1027.5,362.5 1031.2,368.8 1035.0,374.0 1038.8,378.9 1042.5,385.0 1049.0,394.0 1055.0,402.5 1058.0,408.0 1062.5,412.5 1067.0,419.0 1072.5,423.8 1076.0,427.0 1080.0,430.0 1083.8,437.5 1087.5,439.5 1089.0,410.0 1091.3,367.5 1095.0,375.0 1100.0,382.5 1105.0,392.0 1110.0,401.3 1116.0,411.0 1122.5,421.3 1127.0,426.0 1132.5,430.0 1135.0,436.0 1137.5,440.0 1142.0,445.0 1147.5,448.8 1150.0,451.1 1155.0,455.0 1161.3,458.6 1168.0,464.0 1174.5,469.0 1180.0,470.8 1185.8,471.8 1189.0,476.0 1193.3,480.3 1199.0,480.8 1204.6,481.2 1210.3,485.0 1215.9,485.0 1218.0,490.0 1220.6,495.3 1225.3,502.9 1229.1,504.6 1232.9,505.7 1236.7,504.6 1240.4,504.4 1244.2,505.9 1247.9,505.6 1251.7,507.0 1255.5,507.7 1259.2,507.6 1263.0,507.6 1266.8,507.7 1270.5,507.5 1274.3,506.6 1278.0,507.4 1281.8,508.9 1285.6,508.1 1289.4,507.6 1293.2,509.0 1296.9,510.0 1300.7,509.5 1304.4,509.5 1309.1,509.9 1313.8,510.8 1317.6,508.6 1321.4,507.0 1327.0,508.1 1332.7,512.3 1338.3,507.0 1343.0,513.2 1347.7,507.0 1351.5,510.4 1355.3,507.6 1359.0,517.0 1362.8,514.2 1368.5,514.2 1371.3,501.0 1374.1,487.8 1376.0,502.9 1377.9,517.0" fill="none" stroke="#8a0b0d" stroke-width="3.5" stroke-linejoin="round" stroke-linecap="butt"/>
<polyline points="1022.5,336.3 1027.0,345.0 1032.5,353.8 1039.0,364.0 1045.0,373.8 1051.0,382.5 1057.5,391.3 1060.5,395.5 1063.8,398.4 1070.0,397.8 1077.5,397.3 1084.0,397.5 1090.0,398.0 1095.0,398.6 1098.8,400.2 1102.0,403.5 1105.0,407.5 1111.0,414.5 1117.5,421.3 1124.0,428.0 1130.0,433.8 1137.0,439.5 1145.0,445.0 1152.0,449.5 1161.3,455.2 1168.0,458.5 1174.5,461.4 1181.0,463.3 1187.7,465.2 1192.0,466.8 1195.2,469.0 1199.0,473.0 1202.7,478.4 1208.0,486.5 1214.0,495.3 1219.0,501.5 1225.3,508.5 1229.0,511.8 1232.9,514.2 1236.0,515.2 1240.4,515.7 1260.0,516.0 1281.8,516.4 1310.0,516.7 1338.3,517.0 1357.2,517.0 1366.6,517.9 1372.2,517.5 1377.9,516.0" fill="none" stroke="#0a6a10" stroke-width="3.5" stroke-linejoin="round" stroke-linecap="butt"/>
<polyline points="1016.3,340.0 1026.0,356.0 1037.5,372.5 1052.0,390.5 1067.5,406.3 1085.0,423.0 1105.0,440.0 1123.0,451.5 1142.5,461.3 1161.0,469.0 1180.0,475.0 1192.0,479.3 1204.6,483.1 1232.0,489.6 1263.0,495.3 1290.0,498.5 1319.5,500.6 1350.0,501.9 1377.9,502.5" fill="none" stroke="#a6a6a6" stroke-width="1.7" stroke-linejoin="round" stroke-linecap="butt"/>
<text transform="translate(967.65,355.05) scale(0.1875,0.1549)" font-size="100" fill="#000" font-family='"Liberation Sans", sans-serif'>0</text>
<text transform="translate(978.35,355.20) scale(0.2500,0.2273)" font-size="100" fill="#000" font-family='"Liberation Sans", sans-serif'>.</text>
<text transform="translate(985.55,355.05) scale(0.1875,0.1549)" font-size="100" fill="#000" font-family='"Liberation Sans", sans-serif'>0</text>
<text transform="translate(997.83,358.59) scale(0.1681,0.2056)" font-size="100" fill="#000" font-family='"Liberation Sans", sans-serif'>3</text>
<text transform="translate(966.55,412.65) scale(0.1875,0.1549)" font-size="100" fill="#000" font-family='"Liberation Sans", sans-serif'>0</text>
<text transform="translate(977.25,412.80) scale(0.2500,0.2273)" font-size="100" fill="#000" font-family='"Liberation Sans", sans-serif'>.</text>
<text transform="translate(984.45,412.65) scale(0.1875,0.1549)" font-size="100" fill="#000" font-family='"Liberation Sans", sans-serif'>0</text>
<text transform="translate(996.42,412.80) scale(0.1957,0.1571)" font-size="100" fill="#000" font-family='"Liberation Sans", sans-serif'>2</text>
<text transform="translate(970.95,470.25) scale(0.1875,0.1549)" font-size="100" fill="#000" font-family='"Liberation Sans", sans-serif'>0</text>
<text transform="translate(981.65,470.40) scale(0.2500,0.2273)" font-size="100" fill="#000" font-family='"Liberation Sans", sans-serif'>.</text>
<text transform="translate(988.85,470.25) scale(0.1875,0.1549)" font-size="100" fill="#000" font-family='"Liberation Sans", sans-serif'>0</text>
<text transform="translate(1000.94,470.40) scale(0.1070,0.1594)" font-size="100" fill="#000" font-family='"Liberation Sans", sans-serif'>1</text>
<text transform="translate(996.15,527.05) scale(0.1875,0.1549)" font-size="100" fill="#000" font-family='"Liberation Sans", sans-serif'>0</text>
<text transform="translate(1011.04,545.30) scale(0.1070,0.1464)" font-size="100" fill="#000" font-family='"Liberation Sans", sans-serif'>1</text>
<text transform="translate(1075.04,545.16) scale(0.1792,0.1423)" font-size="100" fill="#000" font-family='"Liberation Sans", sans-serif'>0</text>
<text transform="translate(1085.31,545.30) scale(0.2500,0.2273)" font-size="100" fill="#000" font-family='"Liberation Sans", sans-serif'>.</text>
<text transform="translate(1092.47,545.11) scale(0.1979,0.1901)" font-size="100" fill="#000" font-family='"Liberation Sans", sans-serif'>8</text>
<text transform="translate(1148.50,545.16) scale(0.1792,0.1423)" font-size="100" fill="#000" font-family='"Liberation Sans", sans-serif'>0</text>
<text transform="translate(1158.77,545.30) scale(0.2500,0.2273)" font-size="100" fill="#000" font-family='"Liberation Sans", sans-serif'>.</text>
<text transform="translate(1165.71,545.11) scale(0.2022,0.1901)" font-size="100" fill="#000" font-family='"Liberation Sans", sans-serif'>6</text>
<text transform="translate(1222.31,545.16) scale(0.1792,0.1423)" font-size="100" fill="#000" font-family='"Liberation Sans", sans-serif'>0</text>
<text transform="translate(1232.58,545.30) scale(0.2500,0.2273)" font-size="100" fill="#000" font-family='"Liberation Sans", sans-serif'>.</text>
<text transform="translate(1240.19,549.20) scale(0.1686,0.2015)" font-size="100" fill="#000" font-family='"Liberation Sans", sans-serif'>4</text>
<text transform="translate(1295.77,545.16) scale(0.1792,0.1423)" font-size="100" fill="#000" font-family='"Liberation Sans", sans-serif'>0</text>
<text transform="translate(1306.04,545.30) scale(0.2500,0.2273)" font-size="100" fill="#000" font-family='"Liberation Sans", sans-serif'>.</text>
<text transform="translate(1313.06,545.30) scale(0.1870,0.1443)" font-size="100" fill="#000" font-family='"Liberation Sans", sans-serif'>2</text>
<text transform="translate(1377.98,545.16) scale(0.1792,0.1423)" font-size="100" fill="#000" font-family='"Liberation Sans", sans-serif'>0</text>
<g transform="translate(958.4,518.0) rotate(-90)">
<text x="0.0" y="0.0" font-size="27" fill="#000" font-family='"Liberation Serif", serif' font-style="italic" textLength="18.0" lengthAdjust="spacingAndGlyphs">ρ</text>
<text x="20.0" y="4.5" font-size="18.5" fill="#000" font-family='"Liberation Serif", serif' textLength="27.5" lengthAdjust="spacingAndGlyphs">int</text>
<text x="49.5" y="1.5" font-size="28" fill="#000" font-family='"Liberation Serif", serif' textLength="7.5" lengthAdjust="spacingAndGlyphs">(</text>
<text x="59.0" y="0.0" font-size="27" fill="#000" font-family='"Liberation Serif", serif' font-style="italic" textLength="12.0" lengthAdjust="spacingAndGlyphs">r</text>
<text x="72.5" y="1.5" font-size="28" fill="#000" font-family='"Liberation Serif", serif' textLength="7.5" lengthAdjust="spacingAndGlyphs">)</text>
<path d="M83.0,6.5 L101.5,-20.5" stroke="#000" stroke-width="1.35" fill="none" stroke-linecap="round"/>
<text x="104.0" y="0.0" font-size="27" fill="#000" font-family='"Liberation Serif", serif' font-style="italic" textLength="13.5" lengthAdjust="spacingAndGlyphs">g</text>
<text x="119.5" y="1.5" font-size="28" fill="#000" font-family='"Liberation Serif", serif' textLength="7.5" lengthAdjust="spacingAndGlyphs">(</text>
<text x="129.0" y="0.0" font-size="27" fill="#000" font-family='"Liberation Serif", serif' font-style="italic" textLength="12.0" lengthAdjust="spacingAndGlyphs">r</text>
<text x="142.5" y="1.5" font-size="28" fill="#000" font-family='"Liberation Serif", serif' textLength="7.5" lengthAdjust="spacingAndGlyphs">)</text>
</g>
<text x="1062.5" y="576.0" font-size="22.4" fill="#000" font-family='"Liberation Sans", sans-serif' textLength="223.7" lengthAdjust="spacingAndGlyphs">distance from centre,</text>
<text x="1292.0" y="576.3" font-size="29" fill="#000" font-family='"Liberation Serif", serif' font-style="italic" textLength="10.5" lengthAdjust="spacingAndGlyphs">r</text>
<path d="M1307.9,584.0 L1315.8,554.4" stroke="#000" stroke-width="1.4" fill="none" stroke-linecap="round"/>
<text x="1321.0" y="576.3" font-size="29" fill="#000" font-family='"Liberation Serif", serif' font-style="italic" textLength="21.5" lengthAdjust="spacingAndGlyphs">R</text>
<text x="1180.7" y="358.8" font-size="32.5" fill="#000" font-family='"Liberation Serif", serif' font-style="italic" textLength="17.1" lengthAdjust="spacingAndGlyphs">κ</text>
<text x="1198.5" y="363.3" font-size="20.5" fill="#000" font-family='"Liberation Serif", serif' textLength="32.7" lengthAdjust="spacingAndGlyphs">het</text>
<path d="M1244.6,348.45 H1267.3 M1244.6,353.95 H1267.3" stroke="#000" stroke-width="1.25" fill="none"/>
<text x="1278.0" y="358.8" font-size="29.6" fill="#000" font-family='"Liberation Serif", serif' textLength="51.1" lengthAdjust="spacingAndGlyphs">0.01</text>
<text x="1334.3" y="358.8" font-size="32" fill="#000" font-family='"Liberation Serif", serif' font-style="italic" textLength="13.7" lengthAdjust="spacingAndGlyphs">s</text>
<path d="M1351.6,341.6 H1366.3" stroke="#000" stroke-width="1.2"/>
<text x="1369.0" y="346.8" font-size="19.7" fill="#000" font-family='"Liberation Serif", serif' textLength="11.3" lengthAdjust="spacingAndGlyphs">1</text>
<text x="1231.9" y="385.1" font-size="28.5" fill="#000" font-family='"Liberation Serif", serif' font-style="italic" textLength="16.0" lengthAdjust="spacingAndGlyphs">κ</text>
<text x="1249.0" y="389.5" font-size="18.5" fill="#000" font-family='"Liberation Serif", serif' textLength="21.6" lengthAdjust="spacingAndGlyphs">eu</text>
<path d="M1283.5,375.75 H1304.7 M1283.5,381.05 H1304.7" stroke="#000" stroke-width="1.2" fill="none"/>
<text x="1315.8" y="385.1" font-size="26.3" fill="#000" font-family='"Liberation Serif", serif' textLength="13.3" lengthAdjust="spacingAndGlyphs">2</text>
<text x="1332.5" y="385.1" font-size="28.5" fill="#000" font-family='"Liberation Serif", serif' font-style="italic" textLength="15.5" lengthAdjust="spacingAndGlyphs">κ</text>
<text x="1349.8" y="389.5" font-size="18.7" fill="#000" font-family='"Liberation Serif", serif' textLength="30.5" lengthAdjust="spacingAndGlyphs">het</text>
<text x="1214.1" y="419.6" font-size="23.3" fill="#000" font-family='"Liberation Sans", sans-serif' textLength="89.4" lengthAdjust="spacingAndGlyphs">Fixed B.</text>
<text x="1178.5" y="445.2" font-size="23.3" fill="#000" font-family='"Liberation Sans", sans-serif' textLength="125.0" lengthAdjust="spacingAndGlyphs">Random B.</text>
<path d="M1313.2,412.9 H1370" stroke="#8a0b0d" stroke-width="3.8" stroke-linecap="round"/>
<path d="M1313.2,435.8 H1370" stroke="#0a6a10" stroke-width="3.8" stroke-linecap="round"/>
<text transform="translate(1030.16,485.90) scale(1.2000,1.0000)" font-size="16" fill="#000" font-family='"Liberation Sans", sans-serif'>Marini et al,</text>
<text transform="translate(1024.69,500.70) scale(1.1793,1.0000)" font-size="16" fill="#000" font-family='"Liberation Sans", sans-serif'>Nature, 2015</text>
<rect x="1140.3" y="481.3" width="11.9" height="11" fill="#000"/>
</svg>
</body></html>
